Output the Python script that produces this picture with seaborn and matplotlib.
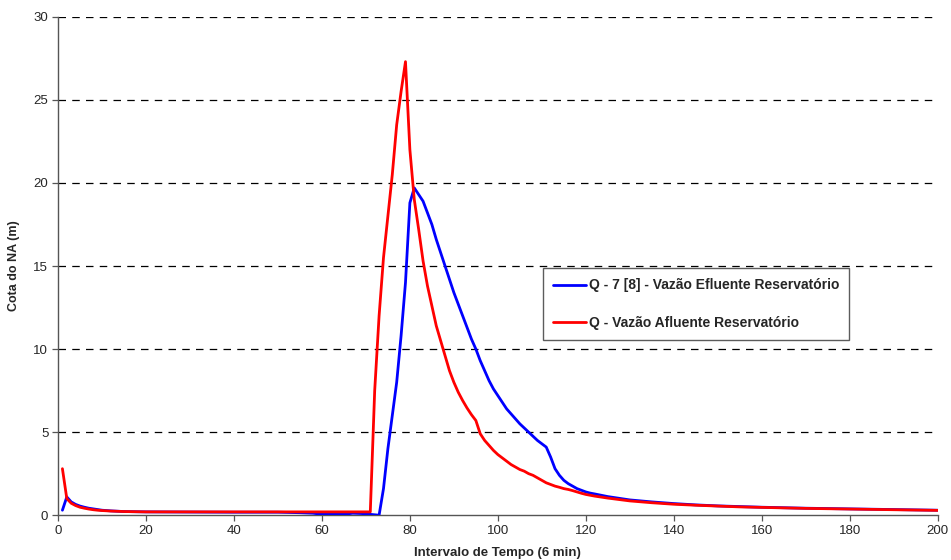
import matplotlib
matplotlib.use("Agg")
import matplotlib.pyplot as plt
import seaborn as sns
import pandas as pd

# Blue: Q - 7 [8] - Vazão Efluente Reservatório
x_eflu = [1, 2, 3, 4, 5, 6, 7, 8, 9, 10, 12, 15, 20, 30, 40, 50, 55, 58, 60, 62, 65, 67, 69, 71, 73,
          74, 75, 76, 77, 78, 79, 80, 81, 82, 83, 84, 85, 86, 87, 88, 89, 90, 91, 92, 93, 94, 95,
          96, 97, 98, 99, 100, 101, 102, 103, 104, 105, 106, 107, 108, 109, 110, 111, 112, 113,
          114, 115, 116, 117, 118, 119, 120, 121, 122, 125, 130, 135, 140, 145, 150, 155, 160,
          165, 170, 175, 180, 185, 190, 195, 200]
y_eflu = [0.3, 1.1, 0.8, 0.65, 0.55, 0.48, 0.42, 0.38, 0.34, 0.3, 0.26, 0.22, 0.2, 0.19, 0.18, 0.18, 0.15, 0.12, 0.05, 0.08, 0.05, 0.12, 0.1, 0.05, 0.0,
          1.6, 4.0, 6.0, 8.0, 10.8, 14.0, 18.8, 19.7, 19.3, 18.9, 18.2, 17.5, 16.6, 15.8, 15.0, 14.2, 13.4, 12.7, 12.0, 11.3, 10.6, 10.0,
          9.3, 8.7, 8.1, 7.6, 7.2, 6.8, 6.4, 6.1, 5.8, 5.5, 5.25, 5.0, 4.75, 4.5, 4.3, 4.1, 3.5, 2.8,
          2.4, 2.1, 1.9, 1.75, 1.6, 1.5, 1.4, 1.33, 1.28, 1.12, 0.92, 0.8, 0.7, 0.62, 0.56, 0.52, 0.48,
          0.45, 0.42, 0.4, 0.38, 0.36, 0.34, 0.32, 0.3]

# Red: Q - Vazão Afluente Reservatório
x_aflu = [1, 2, 3, 4, 5, 6, 7, 8, 9, 10, 12, 15, 20, 30, 40, 50, 60, 70, 71,
          72, 73, 74, 75, 76, 77, 78, 79, 80, 81, 82, 83, 84, 85, 86, 87, 88, 89, 90, 91, 92, 93, 94, 95,
          96, 97, 98, 99, 100, 101, 102, 103, 104, 105, 106, 107, 108, 109, 110, 111, 112, 113,
          114, 115, 116, 117, 118, 119, 120, 121, 122, 125, 130, 135, 140, 145, 150, 155, 160,
          165, 170, 175, 180, 185, 190, 195, 200]
y_aflu = [2.8, 1.0, 0.72, 0.58, 0.48, 0.42, 0.37, 0.33, 0.3, 0.28, 0.25, 0.22, 0.2, 0.2, 0.2, 0.2, 0.2, 0.2, 0.2,
          7.5, 12.0, 15.5, 18.0, 20.5, 23.5, 25.5, 27.3, 22.0, 19.0, 17.2, 15.3, 13.8, 12.6, 11.4, 10.5, 9.6, 8.7, 8.0, 7.4, 6.9, 6.45, 6.05, 5.7,
          4.9, 4.5, 4.2, 3.9, 3.65, 3.45, 3.25, 3.05, 2.9, 2.75, 2.65, 2.5, 2.4, 2.25, 2.1, 1.95, 1.85, 1.75,
          1.68, 1.6, 1.55, 1.48, 1.4, 1.32, 1.25, 1.2, 1.15, 1.03, 0.86, 0.75, 0.66, 0.6, 0.55, 0.5, 0.47,
          0.44, 0.41, 0.39, 0.37, 0.35, 0.33, 0.31, 0.29]

label_eflu = "Q - 7 [8] - Vazão Efluente Reservatório"
label_aflu = "Q - Vazão Afluente Reservatório"
x_ticks = [0, 20, 40, 60, 80, 100, 120, 140, 160, 180, 200]
y_ticks = [0, 5, 10, 15, 20, 25, 30]

sns.set_style("white")
plt.rcParams['font.family'] = ['Liberation Sans', 'DejaVu Sans']

fig = plt.figure(figsize=(9.51, 5.60), dpi=100)
ax = fig.add_axes([0.061, 0.080, 0.925, 0.890])

for yv in y_ticks[1:]:
    ax.axhline(yv, color='black', linestyle=(0, (6, 5)), linewidth=0.9, zorder=1)

df_e = pd.DataFrame({"x": x_eflu, "y": y_eflu})
df_a = pd.DataFrame({"x": x_aflu, "y": y_aflu})
sns.lineplot(data=df_e, x="x", y="y", ax=ax, color="#0000FF", linewidth=2.0, label=label_eflu, zorder=3)
sns.lineplot(data=df_a, x="x", y="y", ax=ax, color="#FF0000", linewidth=2.0, label=label_aflu, zorder=4)

ax.set_xlim(0, 200)
ax.set_ylim(0, 30)
ax.set_xticks(x_ticks)
ax.set_yticks(y_ticks)
ax.tick_params(axis='both', labelsize=9.5, length=4, width=0.9, color='#555555', direction='out',
               left=True, bottom=True, pad=3)
for s in ['top', 'right']:
    ax.spines[s].set_visible(False)
for s in ['left', 'bottom']:
    ax.spines[s].set_color('#555555')
    ax.spines[s].set_linewidth(1.0)

ax.set_xlabel("Intervalo de Tempo (6 min)", fontsize=9.5, fontweight='bold', labelpad=7)
ax.set_ylabel("Cota do NA (m)", fontsize=9, fontweight='bold', labelpad=10)

leg = ax.legend(loc='upper left', bbox_to_anchor=(0.551, 0.496), borderaxespad=0,
                frameon=True, fancybox=False, edgecolor='#333333',
                prop={'weight': 'bold', 'size': 10}, labelspacing=1.7, handlelength=2.4,
                handletextpad=0.15, borderpad=0.75)
leg.get_frame().set_linewidth(1.0)

fig.savefig("out.png", dpi=100)
